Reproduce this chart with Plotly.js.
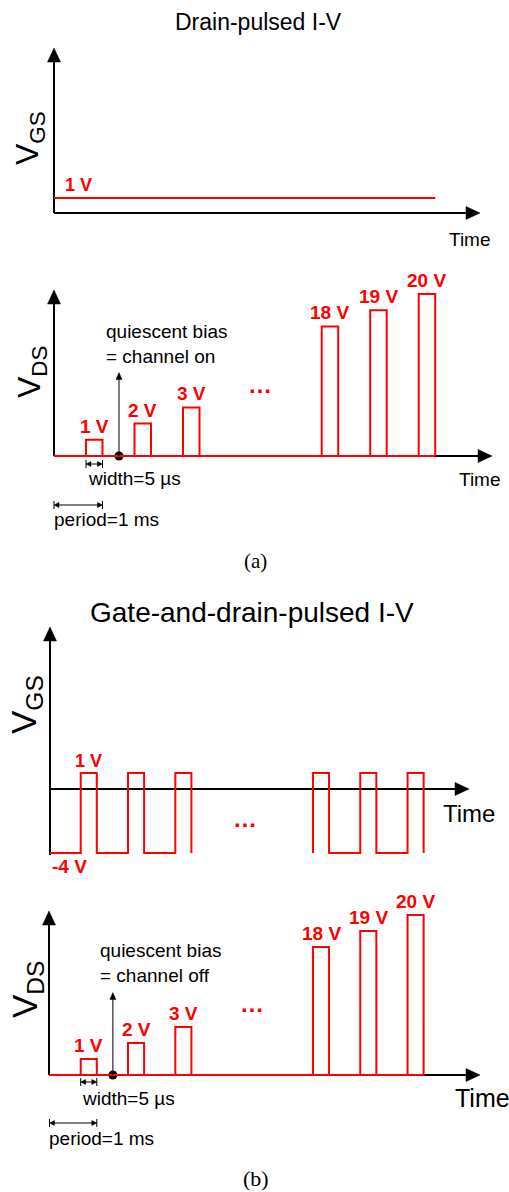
<!DOCTYPE html>
<html>
<head>
<meta charset="utf-8">
<script src="https://cdn.plot.ly/plotly-3.0.1.min.js"></script>
<style>
  html, body { margin: 0; padding: 0; background: #fff; }
  #chart { width: 509px; height: 1192px; }
</style>
</head>
<body>
<div id="chart"></div>
<script>
// Pulsed I-V timing: pulse n ends at t = n ms and steps V_DS to n volts
const pulseEndsLeft = [1, 2, 3];        // ms
const pulseEndsRight = [18, 19, 20];    // ms
const vdsLeft = [1, 2, 3];              // V
const vdsRight = [18, 19, 20];          // V
const vgsDrainPulsed = 1;               // V, constant gate bias
const vgsOn = 1;                        // V, gate pulse level
const vgsOff = -4;                      // V, gate quiescent level
const vdsQuiescent = 0;                 // V
const periodMs = 1;
const widthUs = 5;
const lastTimeMs = 20;

// Drawing parameters
const W = 509, H = 1192;
const SANS = 'Liberation Sans, Arial, sans-serif';
const SERIF = 'Liberation Serif, Times New Roman, serif';
const RED = '#ff0000';
const PULSE_W = 0.34;      // drawn pulse width in ms, widened so the 5 µs pulse stays visible
const QUIESCENT_T = 1.34;  // ms, point marked as the quiescent bias
const QUIESCENT_TIP = 5.15;

const fx = px => px / W;
const fy = py => 1 - py / H;

// horizontal geometry for (a) and (b); the time axis is broken at the ellipsis
const GX = {
  a: { x0: 54, msPx: 48.5, tBreak: 12.14, right: 500 },
  b: { x0: 49.5, msPx: 47.3, tBreak: 12.09, right: 500 }
};
// vertical geometry of each panel; V_DS axes are broken at vBreak
const GY = {
  vgsA: { base: 213, vPx: 15, bottom: 232, top: 40 },
  vdsA: { base: 456, vPx: 16.2, bottom: 472, top: 284, vBreak: 10 },
  vgsB: { base: 789, vPx: 16, bottom: 872, top: 620 },
  vdsB: { base: 1075, vPx: 16, bottom: 1092, top: 904, vBreak: 10 }
};
const tToPx = (g, t) => g.x0 + t * g.msPx;
const vToPx = (g, v) => g.base - v * g.vPx;

function xAxis(g, shifted) {
  const span = (g.right - g.x0) / g.msPx;
  const s = shifted ? g.tBreak : 0;
  return { visible: false, fixedrange: true, domain: [fx(g.x0), fx(g.right)], range: [s, s + span] };
}
function yAxisLow(g) {
  return { visible: false, fixedrange: true, domain: [fy(g.bottom), fy(g.top)],
           range: [(g.base - g.bottom) / g.vPx, (g.base - g.top) / g.vPx] };
}
function yAxisHigh(g) {
  return { visible: false, fixedrange: true, domain: [fy(g.base), fy(g.top)],
           range: [g.vBreak, g.vBreak + (g.base - g.top) / g.vPx] };
}

// square wave: low level, rising at (end - width), high until end
function pulseTrain(ends, levels, low, startT) {
  const x = [], y = [];
  if (startT !== null) { x.push(startT); y.push(low); }
  ends.forEach((t, i) => {
    x.push(t - PULSE_W, t - PULSE_W, t, t);
    y.push(low, levels[i], levels[i], low);
  });
  return { x, y };
}

function redLine(pts, xa, ya) {
  return { type: 'scatter', mode: 'lines', x: pts.x, y: pts.y, xaxis: xa, yaxis: ya,
           line: { color: RED, width: 2 }, hoverinfo: 'skip', showlegend: false };
}

const endsL = pulseEndsLeft.map(n => n * periodMs);
const endsR = pulseEndsRight.map(n => n * periodMs);

const traces = [
  // (a) V_GS held constant
  redLine({ x: [0, lastTimeMs], y: [vgsDrainPulsed, vgsDrainPulsed] }, 'x2', 'y'),
  // (a) V_DS
  redLine({ x: [0, lastTimeMs], y: [vdsQuiescent, vdsQuiescent] }, 'x2', 'y2'),
  redLine(pulseTrain(endsL, vdsLeft, vdsQuiescent, 0), 'x', 'y2'),
  redLine(pulseTrain(endsR, vdsRight, vdsQuiescent, null), 'x2', 'y3'),
  // (b) V_GS pulsed from -4 V to 1 V
  redLine(pulseTrain(endsL, endsL.map(() => vgsOn), vgsOff, 0), 'x3', 'y4'),
  redLine(pulseTrain(endsR, endsR.map(() => vgsOn), vgsOff, null), 'x4', 'y4'),
  // (b) V_DS
  redLine({ x: [0, lastTimeMs], y: [vdsQuiescent, vdsQuiescent] }, 'x4', 'y5'),
  redLine(pulseTrain(endsL, vdsLeft, vdsQuiescent, 0), 'x3', 'y5'),
  redLine(pulseTrain(endsR, vdsRight, vdsQuiescent, null), 'x4', 'y6'),
  // quiescent bias points
  { type: 'scatter', mode: 'markers', x: [QUIESCENT_T], y: [vdsQuiescent], xaxis: 'x', yaxis: 'y2',
    marker: { color: '#000', size: 9 }, hoverinfo: 'skip', showlegend: false },
  { type: 'scatter', mode: 'markers', x: [QUIESCENT_T], y: [vdsQuiescent], xaxis: 'x3', yaxis: 'y5',
    marker: { color: '#000', size: 9 }, hoverinfo: 'skip', showlegend: false }
];

const shapes = [];
const annotations = [];

function line(x0, y0, x1, y1, width, layer) {
  shapes.push({ type: 'line', xref: 'paper', yref: 'paper', layer: layer || 'above',
                x0: fx(x0), y0: fy(y0), x1: fx(x1), y1: fy(y1),
                line: { color: '#000', width: width } });
}
// filled triangular arrowhead with its tip at (px, py)
function head(px, py, dir, len, half) {
  let pts;
  if (dir === 'up') pts = [[px, py], [px - half, py + len], [px + half, py + len]];
  else if (dir === 'right') pts = [[px, py], [px - len, py - half], [px - len, py + half]];
  else pts = [[px, py], [px + len, py - half], [px + len, py + half]];
  const d = 'M' + pts.map(p => fx(p[0]) + ',' + fy(p[1])).join(' L') + ' Z';
  shapes.push({ type: 'path', xref: 'paper', yref: 'paper', path: d,
                fillcolor: '#000', line: { color: '#000', width: 0.5 } });
}
function axes(ox, yBottom, yTip, xTip, xAxisY) {
  line(ox, yBottom, ox, yTip + 8, 2, 'below');
  head(ox, yTip, 'up', 14, 6.5);
  line(ox, xAxisY, xTip - 8, xAxisY, 2, 'below');
  head(xTip, xAxisY, 'right', 14, 6.5);
}
function text(px, py, str, size, extra) {
  annotations.push(Object.assign({ xref: 'paper', yref: 'paper', x: fx(px), y: fy(py), text: str,
    showarrow: false, xanchor: 'left', yanchor: 'middle', align: 'left',
    font: { family: SANS, size: size, color: '#000' } }, extra || {}));
}
function axisName(px, py, sub, size) {
  text(px, py, 'V<sub>' + sub + '</sub>', size, { xanchor: 'center', textangle: -90 });
}
function pulseLabels(ends, volts, xa, ya) {
  ends.forEach((t, i) => {
    annotations.push({ xref: xa, yref: ya, x: t - PULSE_W / 2, y: volts[i], text: volts[i] + ' V',
      showarrow: false, xanchor: 'center', yanchor: 'bottom', yshift: 1,
      font: { family: SANS, size: 19, color: RED, weight: 'bold' } });
  });
}
function ellipsis(px, py) {
  text(px, py, '…', 24, { xanchor: 'center', font: { family: SANS, size: 24, color: RED, weight: 'bold' } });
}
// thin pointer rising from the quiescent point
function quiescentArrow(gx, gy) {
  const px = tToPx(gx, QUIESCENT_T);
  const tip = vToPx(gy, QUIESCENT_TIP);
  line(px, vToPx(gy, vdsQuiescent), px, tip + 5, 1);
  head(px, tip, 'up', 7, 3);
}
// double-headed span between two times, with end ticks
function spanMarker(gx, t0, t1, py) {
  const a = tToPx(gx, t0), b = tToPx(gx, t1);
  line(a + 3, py, b - 3, py, 1);
  head(a, py, 'left', 5, 2.5);
  head(b, py, 'right', 5, 2.5);
  line(a, py - 4, a, py + 4, 1);
  line(b, py - 4, b, py + 4, 1);
}

// ---------- (a) drain-pulsed ----------
text(258, 22, 'Drain-pulsed I-V', 23, { xanchor: 'center' });
axes(54, 213, 48, 480, 213);
axisName(30, 138, 'GS', 32);
annotations.push({ xref: 'x', yref: 'y', x: 0.19, y: vgsDrainPulsed, text: vgsDrainPulsed + ' V',
  showarrow: false, xanchor: 'left', yanchor: 'bottom', yshift: 1,
  font: { family: SANS, size: 18, color: RED, weight: 'bold' } });
text(447, 239, 'Time', 19);

axes(54, 456, 290, 492, 456);
axisName(31, 372, 'DS', 32);
pulseLabels(endsL, vdsLeft, 'x', 'y2');
pulseLabels(endsR, vdsRight, 'x2', 'y3');
ellipsis(260, 384);
quiescentArrow(GX.a, GY.vdsA);
text(104, 344, 'quiescent bias<br>= channel on', 19);
spanMarker(GX.a, endsL[0] - PULSE_W, endsL[0], 464);
text(86, 479, 'width=' + widthUs + ' µs', 19);
spanMarker(GX.a, 0, periodMs, 505);
text(52, 519, 'period=' + periodMs + ' ms', 19);
text(457, 480, 'Time', 19);
text(256, 561, '(a)', 21, { xanchor: 'center', font: { family: SERIF, size: 21, color: '#000' } });

// ---------- (b) gate-and-drain-pulsed ----------
text(252, 612, 'Gate-and-drain-pulsed I-V', 28, { xanchor: 'center' });
axes(50, 855, 627, 469, 789);
axisName(26, 705, 'GS', 35);
annotations.push({ xref: 'x3', yref: 'y4', x: endsL[0] - PULSE_W / 2, y: vgsOn, text: vgsOn + ' V',
  showarrow: false, xanchor: 'center', yanchor: 'bottom', yshift: 0,
  font: { family: SANS, size: 18, color: RED, weight: 'bold' } });
annotations.push({ xref: 'x3', yref: 'y4', x: 0, y: vgsOff, text: vgsOff + ' V',
  showarrow: false, xanchor: 'left', yanchor: 'top', yshift: -1,
  font: { family: SANS, size: 19, color: RED, weight: 'bold' } });
ellipsis(245, 818);
text(441, 813, 'Time', 24);

axes(49, 1075, 911, 480, 1075);
axisName(27, 990, 'DS', 35);
pulseLabels(endsL, vdsLeft, 'x3', 'y5');
pulseLabels(endsR, vdsRight, 'x4', 'y6');
ellipsis(252, 1003);
quiescentArrow(GX.b, GY.vdsB);
text(98, 963, 'quiescent bias<br>= channel off', 19);
spanMarker(GX.b, endsL[0] - PULSE_W, endsL[0], 1082);
text(80, 1098, 'width=' + widthUs + ' µs', 19);
spanMarker(GX.b, 0, periodMs, 1123);
text(47, 1138, 'period=' + periodMs + ' ms', 19);
text(453, 1098, 'Time', 25);
text(256, 1178, '(b)', 22, { xanchor: 'center', font: { family: SERIF, size: 22, color: '#000' } });

const layout = {
  width: W, height: H,
  margin: { l: 0, r: 0, t: 0, b: 0 },
  paper_bgcolor: '#fff', plot_bgcolor: 'rgba(0,0,0,0)',
  showlegend: false,
  xaxis: xAxis(GX.a, false), xaxis2: xAxis(GX.a, true),
  xaxis3: xAxis(GX.b, false), xaxis4: xAxis(GX.b, true),
  yaxis: yAxisLow(GY.vgsA),
  yaxis2: yAxisLow(GY.vdsA), yaxis3: yAxisHigh(GY.vdsA),
  yaxis4: yAxisLow(GY.vgsB),
  yaxis5: yAxisLow(GY.vdsB), yaxis6: yAxisHigh(GY.vdsB),
  shapes: shapes,
  annotations: annotations
};

Plotly.newPlot('chart', traces, layout, { staticPlot: true, displayModeBar: false });
</script>
</body>
</html>
